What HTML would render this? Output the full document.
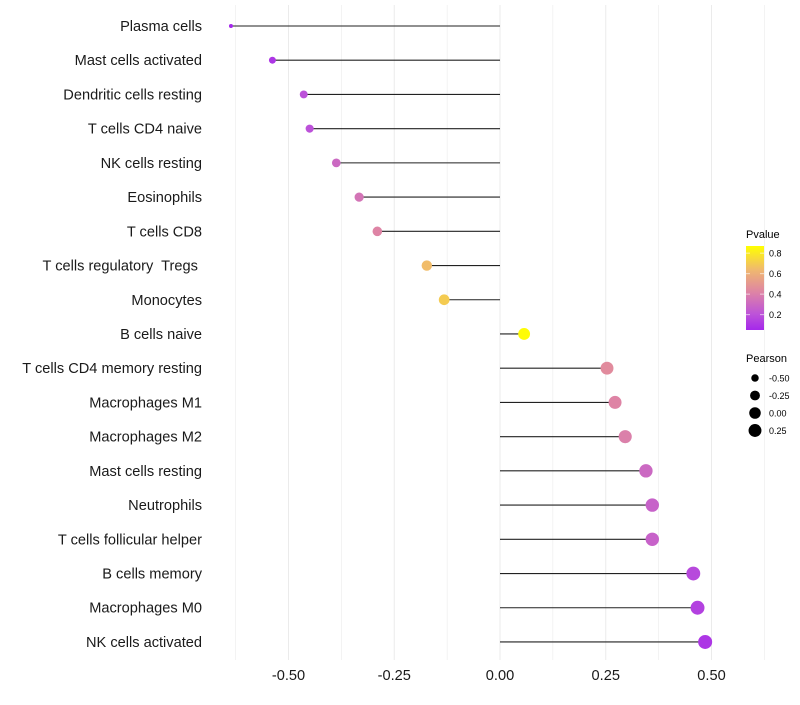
<!DOCTYPE html>
<html><head><meta charset="utf-8"><style>
body{margin:0;background:#fff;font-family:"Liberation Sans",sans-serif}
</style></head><body>
<svg id="c" width="800" height="700" font-family="Liberation Sans, sans-serif"></svg>
<script>
const cats=["Plasma cells","Mast cells activated","Dendritic cells resting","T cells CD4 naive","NK cells resting","Eosinophils","T cells CD8","T cells regulatory  Tregs ","Monocytes","B cells naive","T cells CD4 memory resting","Macrophages M1","Macrophages M2","Mast cells resting","Neutrophils","T cells follicular helper","B cells memory","Macrophages M0","NK cells activated"];
const pearson=[-0.636,-0.538,-0.464,-0.45,-0.387,-0.333,-0.29,-0.173,-0.132,0.057,0.253,0.272,0.296,0.345,0.36,0.36,0.457,0.467,0.485];
const pvalues=[0.05,0.1,0.2,0.2,0.3,0.35,0.42,0.65,0.7,0.86,0.45,0.42,0.4,0.3,0.27,0.27,0.17,0.14,0.1];
const xticks=[-0.5,-0.25,0,0.25,0.5];
const xtickLabels=["-0.50","-0.25","0.00","0.25","0.50"];
const pTicks=[0.2,0.4,0.6,0.8];
const sizeTicks=[-0.5,-0.25,0,0.25];
const sizeLabels=["-0.50","-0.25","0.00","0.25"];
const NS="http://www.w3.org/2000/svg";
const svg=document.getElementById("c");
function mk(t,a,p){const e=document.createElementNS(NS,t);for(const k in a)e.setAttribute(k,a[k]);(p||svg).appendChild(e);return e;}
const x=v=>500+v*423;
const y=i=>26+i*34.22;
const vmin=Math.min(...pearson),vmax=Math.max(...pearson);
const r=v=>2+5*Math.sqrt(Math.max(0,(v-vmin)/(vmax-vmin)));
const stops=[[0,[165,40,235]],[0.2,[190,85,215]],[0.45,[222,132,165]],[0.72,[240,185,110]],[1,[255,255,0]]];
function col(p){const t=Math.max(0,Math.min(1,(p-0.05)/0.82));
 for(let k=0;k<stops.length-1;k++){const[o1,a]=stops[k],[o2,b]=stops[k+1];if(t<=o2){const u=(t-o1)/(o2-o1);return `rgb(${a.map((c,i)=>Math.round(c+(b[i]-c)*u)).join(",")})`;}}
 return "rgb(255,255,0)";}
for(let v=-0.625;v<=0.63;v+=0.125){const g=mk("line",{x1:x(v),x2:x(v),y1:5,y2:660,stroke:"#ebebeb","stroke-width":Math.abs(v*4-Math.round(v*4))<1e-6?1:0.6});

}
for(let i=0;i<cats.length;i++){
 const g=mk("line",{x1:x(0),x2:x(pearson[i]),y1:y(i),y2:y(i),stroke:"#222","stroke-width":1.1});
 
 
 const c=mk("circle",{cx:x(pearson[i]),cy:y(i),r:r(pearson[i]),fill:col(pvalues[i])});
 
 
 const t=mk("text",{x:202,y:y(i)+5,"text-anchor":"end","font-size":14.6,fill:"#1a1a1a"});t.textContent=cats[i];
 t.style.whiteSpace="pre";
 
 
}
xticks.forEach((v,i)=>{const t=mk("text",{x:x(v),y:680,"text-anchor":"middle","font-size":14.6,fill:"#1a1a1a"});t.textContent=xtickLabels[i];

});
const lt=mk("text",{x:746,y:238,"font-size":11});lt.textContent="Pvalue";


const defs=mk("defs",{});const lg=mk("linearGradient",{id:"g",x1:0,y1:1,x2:0,y2:0},defs);
[0,0.2,0.45,0.6,0.72,0.85,1].forEach(o=>mk("stop",{offset:o,"stop-color":col(0.05+o*0.82)},lg));
const bar=mk("rect",{x:746,y:246,width:18,height:84,fill:"url(#g)"});


const py=p=>330-(p-0.05)/0.82*84;
pTicks.forEach(p=>{mk("line",{x1:746,x2:750,y1:py(p),y2:py(p),stroke:"#fff","stroke-opacity":0.6});mk("line",{x1:760,x2:764,y1:py(p),y2:py(p),stroke:"#fff","stroke-opacity":0.6});
const t=mk("text",{x:769,y:py(p)+3.5,"font-size":9});t.textContent=p.toFixed(1);

});
const st=mk("text",{x:746,y:362,"font-size":11});st.textContent="Pearson";


sizeTicks.forEach((v,i)=>{const yy=378+i*17.5;const c=mk("circle",{cx:755,cy:yy,r:r(v),fill:"#000"});


const t=mk("text",{x:769,y:yy+3.5,"font-size":9});t.textContent=sizeLabels[i];

});
</script>
</body></html>
